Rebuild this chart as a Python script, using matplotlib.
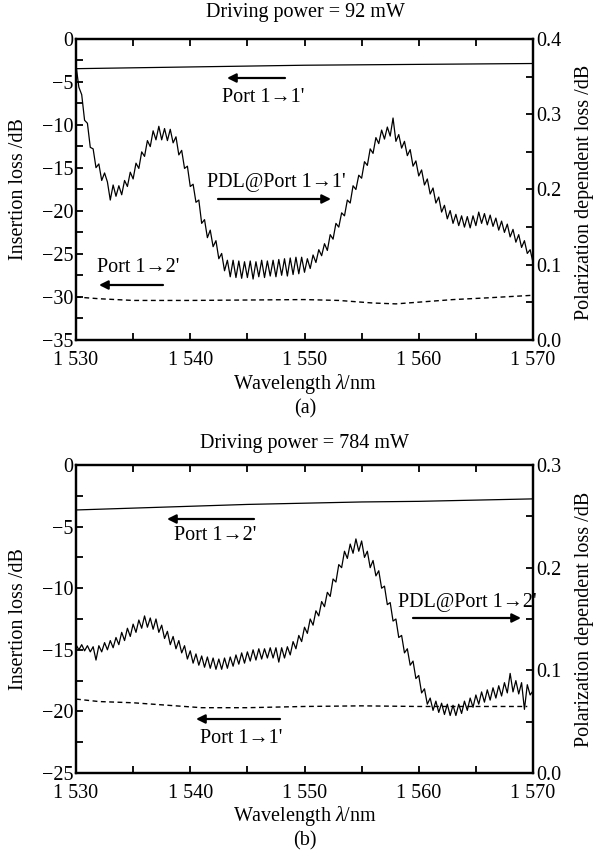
import numpy as np
import matplotlib
matplotlib.use("Agg")
import matplotlib.pyplot as plt
from matplotlib.ticker import MultipleLocator, FuncFormatter

plt.rcParams['font.family'] = ['Liberation Serif', 'DejaVu Serif']
plt.rcParams['mathtext.fontset'] = 'custom'
plt.rcParams['mathtext.rm'] = 'Liberation Serif'
plt.rcParams['mathtext.it'] = 'Liberation Serif:italic'

# ---------------- data ----------------
wl_step = 0.25
wl_start, wl_end = 1530.0, 1570.0

# Panel (a): PDL @ Port 1->1' (right axis, dB), sampled every 0.25 nm
pdl_a = [
    0.365, 0.336, 0.326, 0.292, 0.288, 0.256, 0.254, 0.229,
    0.234, 0.212, 0.222, 0.210, 0.186, 0.206, 0.191, 0.205,
    0.193, 0.212, 0.204, 0.223, 0.214, 0.235, 0.228, 0.250,
    0.244, 0.265, 0.257, 0.278, 0.266, 0.284, 0.266, 0.281,
    0.265, 0.280, 0.262, 0.270, 0.246, 0.252, 0.228, 0.231,
    0.204, 0.207, 0.183, 0.186, 0.155, 0.160, 0.136, 0.146,
    0.124, 0.132, 0.108, 0.115, 0.092, 0.106, 0.084, 0.106,
    0.083, 0.105, 0.082, 0.104, 0.083, 0.105, 0.081, 0.104,
    0.084, 0.106, 0.083, 0.105, 0.085, 0.106, 0.084, 0.107,
    0.086, 0.108, 0.085, 0.109, 0.087, 0.110, 0.088, 0.110,
    0.090, 0.108, 0.095, 0.113, 0.103, 0.120, 0.112, 0.128,
    0.119, 0.140, 0.134, 0.155, 0.150, 0.169, 0.165, 0.186,
    0.182, 0.205, 0.200, 0.219, 0.215, 0.237, 0.232, 0.254,
    0.248, 0.269, 0.261, 0.279, 0.267, 0.283, 0.271, 0.295,
    0.264, 0.273, 0.255, 0.264, 0.245, 0.253, 0.231, 0.238,
    0.218, 0.226, 0.206, 0.214, 0.194, 0.202, 0.182, 0.190,
    0.170, 0.179, 0.161, 0.172, 0.155, 0.167, 0.152, 0.165,
    0.150, 0.164, 0.149, 0.165, 0.152, 0.170, 0.155, 0.168,
    0.153, 0.166, 0.151, 0.162, 0.146, 0.158, 0.143, 0.154,
    0.137, 0.147, 0.130, 0.140, 0.123, 0.132, 0.115, 0.120,
    0.103,
]

# Panel (b): PDL @ Port 1->2' (right axis, dB), sampled every 0.25 nm
pdl_b = [
    0.125, 0.120, 0.125, 0.119, 0.124, 0.118, 0.123, 0.110,
    0.124, 0.118, 0.127, 0.120, 0.129, 0.122, 0.132, 0.125,
    0.137, 0.129, 0.141, 0.133, 0.145, 0.137, 0.149, 0.141,
    0.153, 0.142, 0.151, 0.140, 0.150, 0.137, 0.144, 0.131,
    0.138, 0.125, 0.133, 0.121, 0.129, 0.117, 0.124, 0.111,
    0.119, 0.107, 0.116, 0.105, 0.114, 0.103, 0.113, 0.102,
    0.112, 0.101, 0.111, 0.101, 0.112, 0.102, 0.113, 0.104,
    0.115, 0.106, 0.117, 0.107, 0.118, 0.109, 0.120, 0.110,
    0.121, 0.111, 0.121, 0.112, 0.122, 0.112, 0.122, 0.108,
    0.122, 0.112, 0.123, 0.115, 0.128, 0.121, 0.134, 0.128,
    0.142, 0.136, 0.150, 0.144, 0.158, 0.153, 0.167, 0.162,
    0.176, 0.172, 0.189, 0.186, 0.203, 0.200, 0.216, 0.209,
    0.223, 0.214, 0.228, 0.216, 0.226, 0.210, 0.216, 0.200,
    0.207, 0.192, 0.197, 0.180, 0.182, 0.164, 0.166, 0.148,
    0.150, 0.132, 0.134, 0.117, 0.121, 0.105, 0.109, 0.092,
    0.095, 0.078, 0.082, 0.067, 0.073, 0.061, 0.070, 0.059,
    0.068, 0.057, 0.067, 0.056, 0.066, 0.056, 0.067, 0.058,
    0.070, 0.061, 0.073, 0.064, 0.076, 0.067, 0.079, 0.069,
    0.081, 0.071, 0.083, 0.073, 0.085, 0.075, 0.088, 0.078,
    0.097, 0.079, 0.090, 0.077, 0.088, 0.062, 0.086, 0.076,
    0.080,
]

# Insertion loss curves (left axis, dB)
il_a_11_wl = [1530, 1535, 1540, 1545, 1550, 1555, 1560, 1565, 1570]
il_a_11 = [-3.45, -3.35, -3.25, -3.15, -3.05, -3.0, -2.95, -2.9, -2.85]
il_a_12_wl = [1530, 1532, 1535, 1540, 1545, 1550, 1553, 1556, 1558, 1560, 1563, 1566, 1570]
il_a_12 = [-30.0, -30.2, -30.4, -30.4, -30.35, -30.3, -30.4, -30.7, -30.8, -30.6, -30.3, -30.1, -29.8]

il_b_12_wl = [1530, 1535, 1540, 1545, 1550, 1555, 1560, 1565, 1570]
il_b_12 = [-3.65, -3.5, -3.35, -3.2, -3.1, -3.0, -2.95, -2.85, -2.75]
il_b_11_wl = [1530, 1532, 1535, 1538, 1541, 1545, 1550, 1555, 1560, 1565, 1569.5]
il_b_11 = [-19.0, -19.2, -19.3, -19.5, -19.7, -19.7, -19.6, -19.55, -19.6, -19.6, -19.6]

titles = ["Driving power = 92 mW", "Driving power = 784 mW"]
panel_labels = ["(a)", "(b)"]

# ---------------- figure ----------------
W, H = 595, 855
fig = plt.figure(figsize=(W / 100, H / 100), dpi=100)

def fx(x):
    return x / W

def fy(y):
    return 1 - y / H

FS = 14.5

def wl_fmt(v, pos):
    v = int(round(v))
    return f"{v // 1000} {v % 1000:03d}"

def setup(ax, ax2, ylim, yr):
    ax.set_xlim(wl_start, wl_end)
    ax.set_ylim(*ylim)
    ax2.set_ylim(*yr)
    ax.xaxis.set_major_locator(MultipleLocator(10))
    ax.xaxis.set_minor_locator(MultipleLocator(5))
    ax.xaxis.set_major_formatter(FuncFormatter(wl_fmt))
    ax.yaxis.set_major_locator(MultipleLocator(5))
    ax.yaxis.set_minor_locator(MultipleLocator(2.5))
    ax2.yaxis.set_major_locator(MultipleLocator(0.1))
    ax2.yaxis.set_minor_locator(MultipleLocator(0.05))
    ax2.yaxis.set_major_formatter(FuncFormatter(lambda v, p: f"{v:.1f}"))
    ax.tick_params(axis='x', which='both', direction='in', top=True, bottom=True,
                   labelsize=FS, pad=8, width=1.3)
    ax.tick_params(axis='y', which='both', direction='in', left=True, right=False,
                   labelsize=FS, pad=2, width=1.3)
    ax2.tick_params(axis='y', which='both', direction='in', left=False, right=True,
                    labelsize=FS, pad=2, width=1.3)
    for a in (ax, ax2):
        a.tick_params(which='major', length=5)
        a.tick_params(which='minor', length=5)
        for s in a.spines.values():
            s.set_linewidth(1.6)

def arrow(x0, y0, x1, y1):
    fig.add_artist(matplotlib.patches.FancyArrowPatch(
        (fx(x0), fy(y0)), (fx(x1), fy(y1)), transform=fig.transFigure,
        arrowstyle='-|>', mutation_scale=13, lw=1.6, color='black',
        shrinkA=0, shrinkB=0))

def txt(x, y, s, ha='left'):
    fig.text(fx(x), fy(y), s, ha=ha, va='center', fontsize=FS)

L, R = 76, 533
panels = [(39, 340), (465, 773)]

# ----- panel (a) -----
top, bot = panels[0]
ax = fig.add_axes([fx(L), fy(bot), fx(R) - fx(L), fy(top) - fy(bot)])
ax2 = ax.twinx()
wl_a = np.arange(len(pdl_a)) * wl_step + wl_start
ax.plot(il_a_11_wl, il_a_11, color='black', lw=0.9)
ax.plot(il_a_12_wl, il_a_12, color='black', lw=1.0, dashes=(3.5, 2.5))
ax2.plot(wl_a, pdl_a, color='black', lw=0.9)
setup(ax, ax2, (-35, 0), (0.0, 0.4))

txt(305, 13, titles[0], ha='center')
arrow(285, 78, 227, 78)
txt(222, 97, "Port 1\u21921'")
txt(207, 183, "PDL@Port 1\u21921'")
arrow(218, 199, 331, 199)
txt(97, 268, "Port 1\u21922'")
arrow(163, 285, 99, 285)
fig.text(fx(19), fy((top + bot) / 2), "Insertion loss /dB", rotation=90,
         ha='center', va='center', fontsize=FS)
fig.text(fx(585), fy((top + bot) / 2 + 3), "Polarization dependent loss /dB", rotation=90,
         ha='center', va='center', fontsize=FS)
fig.text(fx(305), fy(384), r"Wavelength $\it{\lambda}$/nm", ha='center', va='center', fontsize=FS)
fig.text(fx(305), fy(409), panel_labels[0], ha='center', va='center', fontsize=FS)

# ----- panel (b) -----
top, bot = panels[1]
bx = fig.add_axes([fx(L), fy(bot), fx(R) - fx(L), fy(top) - fy(bot)])
bx2 = bx.twinx()
wl_b = np.arange(len(pdl_b)) * wl_step + wl_start
bx.plot(il_b_12_wl, il_b_12, color='black', lw=0.9)
bx.plot(il_b_11_wl, il_b_11, color='black', lw=1.0, dashes=(3.5, 2.5))
bx2.plot(wl_b, pdl_b, color='black', lw=0.9)
setup(bx, bx2, (-25, 0), (0.0, 0.3))

txt(305, 443, titles[1], ha='center')
arrow(254, 519, 167, 519)
txt(174, 535, "Port 1\u21922'")
txt(398, 602, "PDL@Port 1\u21922'")
arrow(413, 618, 521, 618)
arrow(280, 719, 196, 719)
txt(200, 738, "Port 1\u21921'")
fig.text(fx(19), fy((top + bot) / 2), "Insertion loss /dB", rotation=90,
         ha='center', va='center', fontsize=FS)
fig.text(fx(585), fy((top + bot) / 2), "Polarization dependent loss /dB", rotation=90,
         ha='center', va='center', fontsize=FS)
fig.text(fx(305), fy(816), r"Wavelength $\it{\lambda}$/nm", ha='center', va='center', fontsize=FS)
fig.text(fx(305), fy(841), panel_labels[1], ha='center', va='center', fontsize=FS)

fig.savefig("out.png", dpi=100)
